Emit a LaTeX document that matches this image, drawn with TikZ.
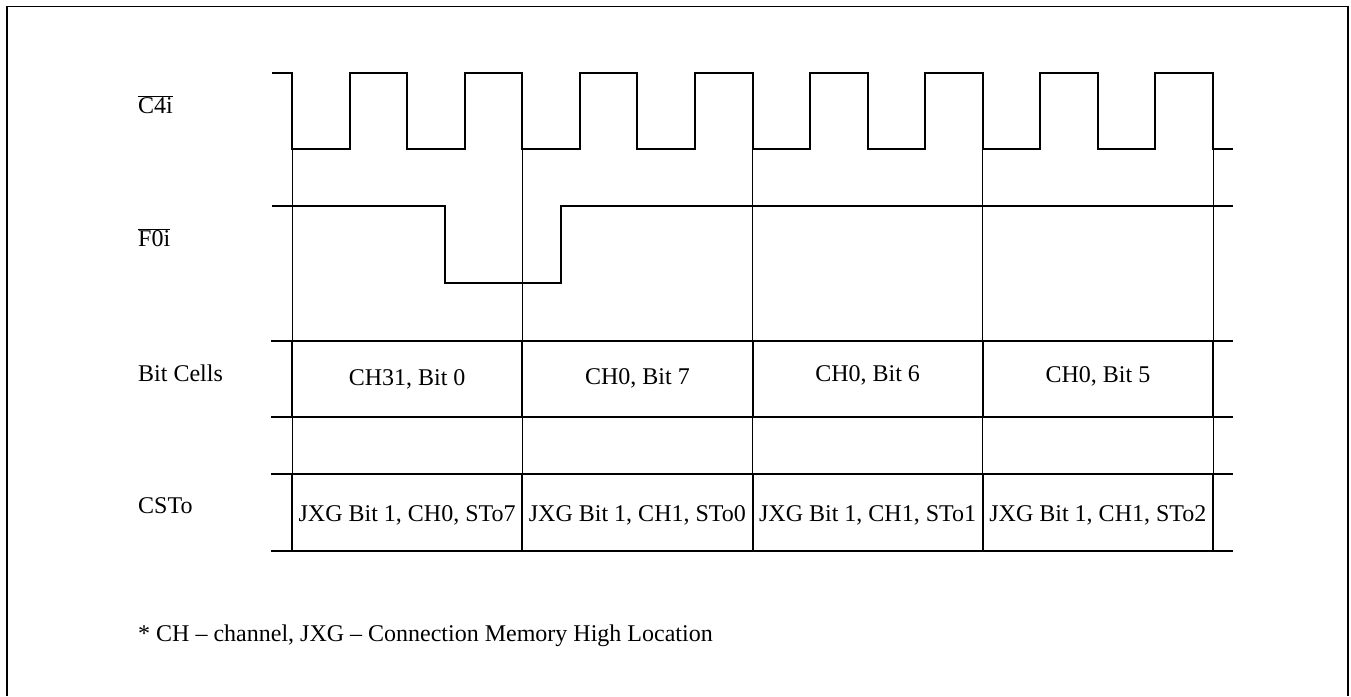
\documentclass[tikz,border=0pt]{standalone}
\usepackage{fontspec}
\setmainfont{Liberation Serif}
\begin{document}
\begin{tikzpicture}[x=1pt,y=-1pt,
  wave/.style={line width=2pt,line join=miter},
  thinline/.style={line width=1pt},
  rowline/.style={line width=2pt},
  frameline/.style={line width=1.6pt},
  lbl/.style={anchor=base west,inner sep=0pt,font=\fontsize{24}{28}\selectfont},
  celltxt/.style={anchor=base,inner sep=0pt,font=\fontsize{24}{28}\selectfont}]
\useasboundingbox (0,0) rectangle (1351,696);
% frame (open at bottom)
\draw[frameline] (7,696) -- (7,6.5) -- (1348,6.5) -- (1348,696);
% thin vertical guide lines
\foreach \x in {292,522.25,752.5,982.75,1213}
  \draw[thinline] (\x,149) -- (\x,550.5);
% clock
\draw[wave] (272,73) -- (292,73) -- (292,149)
  -- (349.6,149) -- (349.6,73) -- (407.1,73) -- (407.1,149)
  -- (464.7,149) -- (464.7,73) -- (522.3,73) -- (522.3,149)
  -- (579.8,149) -- (579.8,73) -- (637.4,73) -- (637.4,149)
  -- (694.9,149) -- (694.9,73) -- (752.5,73) -- (752.5,149)
  -- (810.1,149) -- (810.1,73) -- (867.6,73) -- (867.6,149)
  -- (925.2,149) -- (925.2,73) -- (982.8,73) -- (982.8,149)
  -- (1040.3,149) -- (1040.3,73) -- (1097.9,73) -- (1097.9,149)
  -- (1155.4,149) -- (1155.4,73) -- (1213,73) -- (1213,149)
  -- (1233,149);
% frame pulse
\draw[wave] (272,206) -- (445,206) -- (445,283) -- (560.7,283) -- (560.7,206) -- (1233,206);
% table rows
\foreach \y in {340.5,417,474,550.5}
  \draw[rowline] (271,\y) -- (1233,\y);
\foreach \x in {292,522.25,752.5,982.75,1213} {
  \draw[rowline] (\x,340.5) -- (\x,417);
  \draw[rowline] (\x,474) -- (\x,550.5);
}
% labels
\node[lbl] (lc4) at (138,113) {$\overline{\mbox{C4i}}$};
\node[lbl] (lf0) at (138,246.5) {$\overline{\mbox{F0i}}$};
\node[lbl] (lbc) at (138,381) {Bit Cells};
\node[lbl] (lcs) at (138,513) {CSTo};
% cell texts
\node[celltxt] (b1) at (407.1,385) {CH31, Bit 0};
\node[celltxt] (b2) at (637.4,384) {CH0, Bit 7};
\node[celltxt] (b3) at (867.6,381) {CH0, Bit 6};
\node[celltxt] (b4) at (1097.9,382) {CH0, Bit 5};
\node[celltxt] (c1) at (407.1,521.5) {JXG Bit 1, CH0, STo7};
\node[celltxt] (c2) at (637.4,521.5) {JXG Bit 1, CH1, STo0};
\node[celltxt] (c3) at (867.6,521.5) {JXG Bit 1, CH1, STo1};
\node[celltxt] (c4) at (1097.9,521.5) {JXG Bit 1, CH1, STo2};
% footnote
\node[lbl] (fn) at (138,641) {* CH -- channel, JXG -- Connection Memory High Location};
\end{tikzpicture}
\end{document}
